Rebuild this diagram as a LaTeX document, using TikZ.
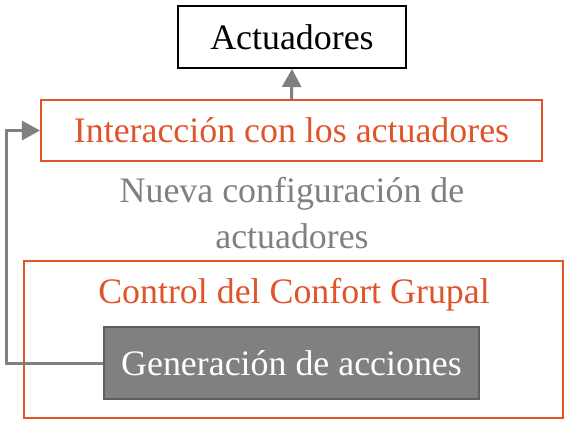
\documentclass[tikz,border=0pt]{standalone}
\usepackage{fontspec}
\setmainfont{Liberation Serif}
\usetikzlibrary{arrows.meta,positioning}
\definecolor{ink}{HTML}{000000}
\definecolor{naranja}{HTML}{E0542A}
\definecolor{gris}{HTML}{808080}
\definecolor{grisOsc}{HTML}{5F5F5F}
\tikzset{
  >={Triangle[length=18bp,width=19bp]},
  txt/.style={font=\fontsize{36}{46}\selectfont,align=center},
  caja/.style={txt,draw=ink,line width=2bp,inner sep=0pt},
  cajaNar/.style={txt,draw=naranja,text=naranja,line width=2bp,inner sep=0pt},
  cajaGen/.style={txt,draw=grisOsc,fill=gris,text=white,line width=2bp,inner sep=0pt},
  flecha/.style={->,gris,line width=3bp},
}
\begin{document}
\begin{tikzpicture}[x=1bp,y=1bp]
\useasboundingbox (0,0) rectangle (571,424);

% ================= CAJAS =================
\node[caja,minimum width=228bp,minimum height=62bp] (act) at (292,387) {Actuadores};
\node[cajaNar,minimum width=501bp,minimum height=61bp] (inter) at (291.5,293.5) {Interacción con los actuadores};
\node[txt,text=gris] (nueva) at (292,211) {Nueva configuración de\\actuadores};
\node[cajaNar,minimum width=539bp,minimum height=157bp] (ctrl) at (293.5,84.5) {};
\node[txt,text=naranja] (ctrlTit) at (294,129) {Control del Confort Grupal};
\node[cajaGen,minimum width=375bp,minimum height=72bp] (gen) at (291.5,61) {Generación de acciones};

% ================= FLECHAS =================
\coordinate (retAbajo) at (6,61);
\coordinate (retArriba) at (6,293.5);
\draw[flecha] (inter.north) -- (act.south);
\draw[flecha] (gen.west) -- (retAbajo) -- (retArriba) -- (inter.west);

\end{tikzpicture}
\end{document}
